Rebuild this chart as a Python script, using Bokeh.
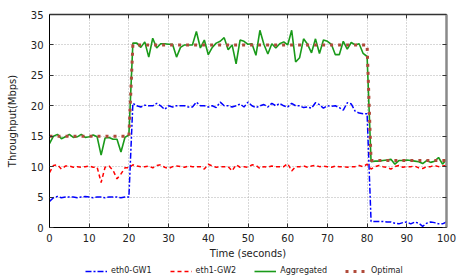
from bokeh.plotting import figure
from bokeh.layouts import column
from bokeh.models import Range1d, LinearAxis, FixedTicker, Legend, LegendItem, CustomJSTickFormatter
from bokeh.embed import file_html
from bokeh.resources import INLINE

time_s = list(range(101))

eth0_gw1 = [4.3, 4.9, 5.1, 4.9, 5.0, 5.0, 5.0, 4.9, 5.0, 5.1, 5.0, 4.9, 5.0, 5.0, 4.9, 5.0, 5.0, 5.0, 4.9, 5.0,
            5.0, 20.4, 20.0, 19.8, 20.1, 20.0, 20.0, 20.4, 20.0, 19.4, 20.0, 19.8, 20.0, 20.0, 20.0, 19.8, 19.8,
            20.6, 20.0, 20.0, 19.8, 20.0, 19.7, 20.6, 20.0, 20.0, 19.8, 20.0, 20.3, 19.8, 20.6, 20.0, 19.7, 20.0,
            20.2, 19.8, 20.4, 20.0, 20.4, 20.0, 19.8, 20.4, 20.0, 20.0, 19.7, 19.8, 19.6, 20.5, 20.2, 19.6, 20.0,
            19.9, 20.0, 19.7, 19.3, 20.5, 20.3, 19.1, 18.8, 18.7, 18.7, 1.0, 1.0, 1.0, 1.0, 0.9, 0.9, 0.7, 0.6,
            0.8, 0.9, 0.6, 0.9, 0.7, 0.2, 0.7, 0.9, 0.8, 0.6, 0.6, 0.9]

eth1_gw2 = [9.0, 10.2, 10.3, 9.6, 10.1, 10.1, 9.9, 10.0, 9.9, 10.0, 10.1, 9.9, 9.9, 7.4, 9.9, 10.1, 9.4, 8.0, 8.8,
            9.8, 9.8, 10.3, 10.1, 10.0, 10.0, 10.1, 9.8, 10.2, 10.3, 9.9, 9.7, 10.0, 10.1, 10.0, 9.9, 10.1, 10.0,
            10.0, 10.0, 9.6, 10.4, 10.1, 9.9, 10.0, 10.0, 10.0, 9.3, 10.3, 9.9, 10.0, 9.9, 10.3, 10.2, 9.7, 10.0,
            9.9, 10.1, 10.0, 10.0, 10.0, 10.5, 9.3, 10.0, 10.0, 10.1, 9.9, 10.1, 10.2, 10.0, 10.1, 10.0, 9.9,
            10.1, 10.0, 10.0, 9.9, 10.0, 10.0, 10.2, 10.0, 10.4, 9.6, 10.0, 10.2, 10.0, 9.9, 9.6, 10.0, 10.2,
            9.9, 10.0, 10.0, 10.1, 9.8, 9.7, 10.0, 10.0, 10.2, 10.0, 10.1, 10.2]

aggregated = [13.8, 15.0, 15.3, 14.6, 14.9, 15.3, 14.8, 14.9, 15.3, 14.8, 14.9, 15.2, 14.9, 11.9, 14.7, 14.8,
              14.5, 14.5, 12.4, 14.8, 15.2, 30.3, 30.3, 29.6, 30.5, 28.0, 31.1, 29.5, 30.2, 30.2, 30.1, 30.1,
              28.0, 29.6, 30.0, 30.0, 30.0, 32.2, 29.5, 30.8, 28.4, 29.6, 30.3, 30.6, 31.2, 29.2, 30.0, 26.9,
              30.8, 30.6, 30.1, 30.2, 28.3, 32.4, 30.1, 28.5, 30.2, 29.5, 30.2, 30.5, 30.0, 32.4, 27.2, 27.9,
              31.0, 30.1, 28.7, 31.0, 28.6, 30.8, 30.6, 30.1, 28.4, 28.4, 30.6, 29.3, 30.4, 30.0, 30.2, 28.6,
              28.1, 10.8, 10.9, 10.9, 11.0, 11.1, 11.2, 10.4, 11.0, 11.0, 11.1, 11.0, 10.9, 10.8, 10.5, 11.0,
              10.7, 10.9, 11.5, 10.4, 11.2]

optimal = [15] * 21 + [30] * 60 + [11] * 20

series_names = ["eth0-GW1", "eth1-GW2", "Aggregated", "Optimal"]

x_ticks = [0, 10, 20, 30, 40, 50, 60, 70, 80, 90, 100]
y_ticks = [0, 5, 10, 15, 20, 25, 30, 35]

FONT = "DejaVu Sans"
STYLES = [dict(line_color="#0000ff", line_width=1.5, line_dash="6 2 2 2"),
          dict(line_color="#ff0000", line_width=1.5, line_dash="4 3"),
          dict(line_color="#1a9a1a", line_width=1.6),
          dict(line_color="#b04a3a", line_width=3, line_dash="3 5")]
series = [eth0_gw1, eth1_gw2, aggregated, optimal]

p = figure(width=464, height=261, output_backend="svg", toolbar_location=None,
           x_range=Range1d(0, 100), y_range=Range1d(0, 35),
           min_border_left=49, min_border_right=18, min_border_top=14, min_border_bottom=30)
p.background_fill_color = "white"
p.border_fill_color = "white"
p.outline_line_color = None

for ax in (p.xaxis[0], p.yaxis[0]):
    ax.major_tick_in = 4
    ax.major_tick_out = 0
    ax.minor_tick_line_color = None
    ax.major_label_text_font = FONT
    ax.major_label_text_font_size = "10px"
    ax.major_label_text_color = "#222222"
    ax.axis_label_text_font = FONT
    ax.axis_label_text_font_size = "10px"
    ax.axis_label_text_font_style = "normal"
    ax.axis_label_text_color = "#222222"
    ax.axis_line_color = "black"
    ax.major_tick_line_color = "#333333"
p.xaxis.ticker = FixedTicker(ticks=x_ticks)
p.yaxis.ticker = FixedTicker(ticks=y_ticks)
p.xaxis.axis_label = "Time (seconds)"
p.yaxis.axis_label = "Throughput(Mbps)"
p.xaxis.major_label_standoff = 6
p.xaxis.axis_label_standoff = 3
p.yaxis.major_label_standoff = 6
p.yaxis.axis_label_standoff = 10

blank = CustomJSTickFormatter(code="return '';")
top = LinearAxis(ticker=FixedTicker(ticks=x_ticks), formatter=blank, major_tick_in=4, major_tick_out=0,
                 minor_tick_line_color=None, major_label_standoff=0,
                 axis_line_color="#333333", axis_line_width=1.5, major_tick_line_color="#333333")
right = LinearAxis(ticker=FixedTicker(ticks=y_ticks), formatter=blank, major_tick_in=4, major_tick_out=0,
                   minor_tick_line_color=None, major_label_standoff=0,
                   axis_line_color="#8a8a8a", axis_line_width=2.5, major_tick_line_color="#333333")
p.add_layout(top, "above")
p.add_layout(right, "right")

p.xgrid.ticker = FixedTicker(ticks=x_ticks)
p.ygrid.ticker = FixedTicker(ticks=y_ticks)
p.grid.grid_line_color = "#b0b0b0"
p.grid.grid_line_dash = "1 2"
p.grid.grid_line_width = 1

for ys, st in zip(series, STYLES):
    p.line(time_s, ys, **st)

# legend strip below the chart: same series, drawn out of view so only the legend shows
lg = figure(width=464, height=17, output_backend="svg", toolbar_location=None,
            x_range=Range1d(0, 100), y_range=Range1d(100, 101), x_axis_type=None, y_axis_type=None,
            min_border=0)
lg.outline_line_color = None
lg.background_fill_color = "white"
lg.border_fill_color = "white"
items = []
for name, ys, st in zip(series_names, series, STYLES):
    r = lg.line(time_s, ys, **st)
    items.append(LegendItem(label=name, renderers=[r]))
legend = Legend(items=items, orientation="horizontal", location=(36, 3),
                label_text_font=FONT, label_text_font_size="8px", label_text_color="#222222",
                glyph_width=22, glyph_height=8, label_height=8, label_standoff=4,
                spacing=18, padding=1, margin=0,
                border_line_color=None, background_fill_alpha=0)
lg.add_layout(legend)

layout = column(p, lg, spacing=0)
open("out.html", "w").write(file_html(layout, INLINE))
